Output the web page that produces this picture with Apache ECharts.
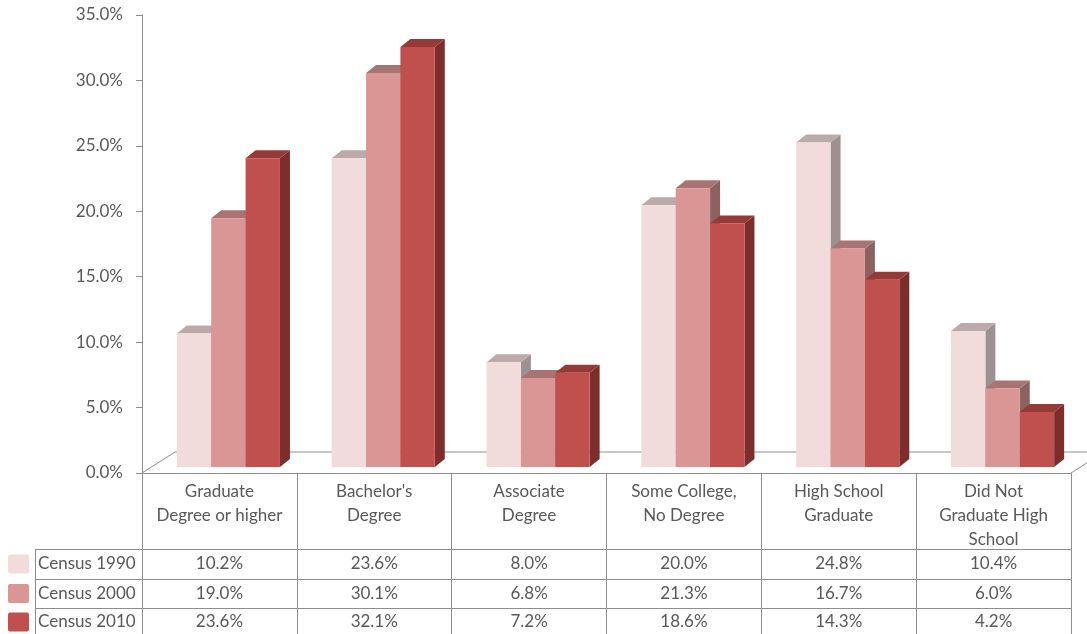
<!DOCTYPE html>
<html>
<head>
<meta charset="utf-8">
<script src="https://cdn.jsdelivr.net/npm/echarts@6/dist/echarts.min.js"></script>
<style>
  html, body { margin: 0; padding: 0; background: #ffffff; }
  #chart { width: 1087px; height: 634px; }
</style>
</head>
<body>
<div id="chart"></div>
<script>
// Educational attainment by census year
const categories = [
  'Graduate\nDegree or higher',
  "Bachelor's\nDegree",
  'Associate\nDegree',
  'Some College,\nNo Degree',
  'High School\nGraduate',
  'Did Not\nGraduate High\nSchool'
];
const seriesNames = ['Census 1990', 'Census 2000', 'Census 2010'];
const census1990 = [10.2, 23.6, 8.0, 20.0, 24.8, 10.4];
const census2000 = [19.0, 30.1, 6.8, 21.3, 16.7, 6.0];
const census2010 = [23.6, 32.1, 7.2, 18.6, 14.3, 4.2];
const yMin = 0, yMax = 35, yStep = 5;

// face colours: front, top, side
const frontColors = ['#F2DCDB', '#D99694', '#C0504D'];
const topColors   = ['#BCAAAA', '#A87372', '#953A37'];
const sideColors  = ['#9E9090', '#8C6261', '#7B2E2C'];

const FONT = '"Lato", "Open Sans", sans-serif';
const TEXT = '#595959';
const LINE = '#8E8E8E';

// layout of the plot and the data table underneath it
const W = 1087, H = 634;
const plotLeft = 142, plotRight = 1071, plotTop = 15, plotBottom = 473;
const rowLines = [549, 579, 608];
const rowCenters = [564, 593.5, 622];
const headerLeft = 35;

const depthX = 10, depthY = 8, lift = 6;

function bar3d(seriesIndex) {
  return function (params, api) {
    const cat = api.value(0);
    const v = api.value(1);
    const base = api.coord([cat, 0]);
    const top = api.coord([cat, v]);
    const colW = api.size([1, 0])[0];
    const bw = colW * 0.222;
    const shift = colW * 0.058;
    const x0 = base[0] + shift - 1.5 * bw + seriesIndex * bw;
    const yb = base[1] - lift;
    const yt = top[1] - lift;
    return {
      type: 'group',
      children: [
        {
          type: 'polygon',
          shape: { points: [[x0 + bw, yt], [x0 + bw + depthX, yt - depthY], [x0 + bw + depthX, yb - depthY], [x0 + bw, yb]] },
          style: { fill: sideColors[seriesIndex] }
        },
        {
          type: 'polygon',
          shape: { points: [[x0, yt], [x0 + depthX, yt - depthY], [x0 + bw + depthX, yt - depthY], [x0 + bw, yt]] },
          style: { fill: topColors[seriesIndex] }
        },
        {
          type: 'rect',
          shape: { x: x0, y: yt, width: bw, height: yb - yt },
          style: { fill: frontColors[seriesIndex] }
        },
        {
          type: 'text',
          style: {
            text: v.toFixed(1) + '%',
            x: base[0],
            y: rowCenters[seriesIndex],
            align: 'center',
            verticalAlign: 'middle',
            font: '17px ' + FONT,
            fill: TEXT
          }
        }
      ]
    };
  };
}

const allValues = [census1990, census2000, census2010];

const series = allValues.map((vals, s) => ({
  type: 'custom',
  name: seriesNames[s],
  renderItem: bar3d(s),
  clip: false,
  z: 5,
  encode: { x: 0, y: 1 },
  data: vals.map((v, i) => [i, v])
}));

// floor outline and table rules
const graphics = [];
const lineStyle = { stroke: LINE, lineWidth: 1 };
graphics.push({ type: 'polyline', z: 1, shape: { points: [[plotLeft, plotBottom], [plotLeft + 33, plotBottom - 21], [W, plotBottom - 21]] }, style: lineStyle });
graphics.push({ type: 'line', z: 1, shape: { x1: plotRight, y1: plotBottom, x2: plotRight + 33, y2: plotBottom - 21 }, style: lineStyle });
rowLines.forEach(y => {
  graphics.push({ type: 'line', z: 1, shape: { x1: headerLeft, y1: y + 0.5, x2: plotRight, y2: y + 0.5 }, style: lineStyle });
});
graphics.push({ type: 'line', z: 1, shape: { x1: headerLeft + 0.5, y1: rowLines[0], x2: headerLeft + 0.5, y2: H }, style: lineStyle });
seriesNames.forEach((name, s) => {
  graphics.push({
    type: 'rect', z: 1,
    shape: { x: 8, y: rowCenters[s] - 9.5, width: 21, height: 19, r: 2 },
    style: { fill: frontColors[s] }
  });
  graphics.push({
    type: 'text', z: 1,
    style: { text: name, x: 38, y: rowCenters[s], verticalAlign: 'middle', font: '17px ' + FONT, fill: TEXT }
  });
});

const chart = echarts.init(document.getElementById('chart'), null, { renderer: 'canvas' });
chart.setOption({
  animation: false,
  backgroundColor: '#ffffff',
  grid: { left: plotLeft, right: W - plotRight, top: plotTop, bottom: H - plotBottom, containLabel: false },
  xAxis: {
    type: 'category',
    data: categories,
    boundaryGap: true,
    axisLine: { show: true, lineStyle: { color: LINE, width: 1 } },
    axisTick: { show: true, interval: 0, inside: false, length: H - plotBottom, lineStyle: { color: LINE, width: 1 } },
    axisLabel: {
      interval: 0,
      margin: 7,
      color: TEXT,
      fontFamily: FONT,
      fontSize: 17,
      lineHeight: 24,
      align: 'center',
      verticalAlign: 'top'
    },
    splitLine: { show: false }
  },
  yAxis: {
    type: 'value',
    min: yMin,
    max: yMax,
    interval: yStep,
    axisLine: { show: true, lineStyle: { color: LINE, width: 1 } },
    axisTick: { show: true, inside: false, length: 6, lineStyle: { color: LINE } },
    axisLabel: {
      margin: 19,
      color: TEXT,
      fontFamily: FONT,
      fontSize: 17,
      formatter: v => v.toFixed(1) + '%'
    },
    splitLine: { show: false }
  },
  graphic: graphics,
  series: series
});
</script>
</body>
</html>
